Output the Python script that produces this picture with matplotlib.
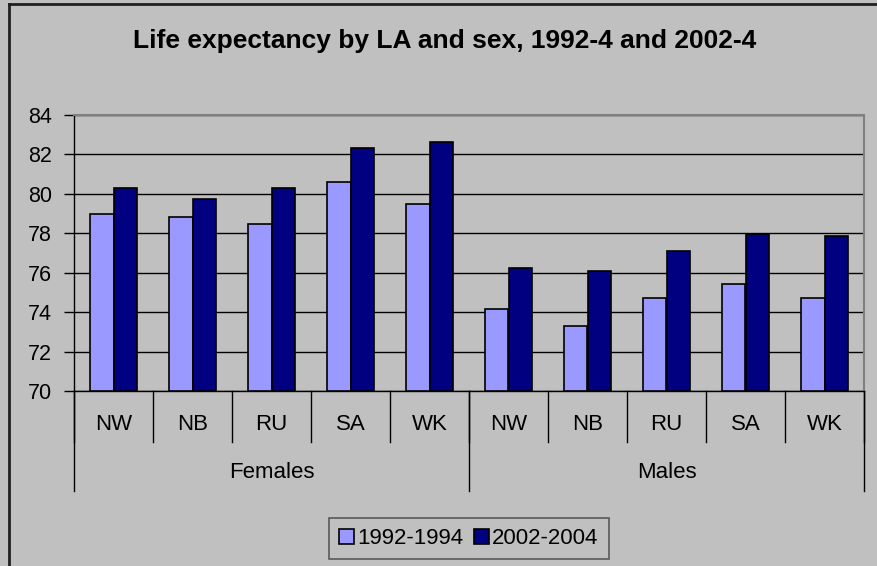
import matplotlib
matplotlib.use("Agg")
import matplotlib.pyplot as plt
from matplotlib.lines import Line2D
import numpy as np

plt.rcParams['font.family'] = ['Liberation Sans', 'DejaVu Sans']

areas = ["NW", "NB", "RU", "SA", "WK", "NW", "NB", "RU", "SA", "WK"]
groups = ["Females", "Males"]
group_size = 5
s1992 = [79.0, 78.85, 78.45, 80.6, 79.47, 74.15, 73.3, 74.7, 75.45, 74.7]
s2002 = [80.3, 79.75, 80.3, 82.35, 82.63, 76.25, 76.1, 77.1, 77.95, 77.85]
series_names = ["1992-1994", "2002-2004"]
title = "Life expectancy by LA and sex, 1992-4 and 2002-4"

bg = "#C0C0C0"
c1 = "#9999FF"
c2 = "#000080"

fig = plt.figure(figsize=(8.77, 5.66), dpi=100, facecolor=bg)
ax = fig.add_axes([74/877, 1-391/566, 790/877, 276/566])
ax.set_facecolor(bg)

x = np.arange(len(areas))
w = 0.3
b1 = ax.bar(x - w/2, np.array(s1992) - 70, w, bottom=70, color=c1, edgecolor="black", linewidth=1.2, zorder=3, label=series_names[0])
b2 = ax.bar(x + w/2, np.array(s2002) - 70, w, bottom=70, color=c2, edgecolor="black", linewidth=1.2, zorder=3, label=series_names[1])

ax.set_ylim(70, 84)
ax.set_xlim(-0.5, len(areas) - 0.5)
ax.set_yticks(np.arange(70, 85, 2))
ax.yaxis.grid(True, color="black", linewidth=1)
ax.set_axisbelow(True)
ax.tick_params(axis='y', length=7, width=1, pad=9, labelsize=15.5, colors="black")
ax.set_xticks([])

for s in ["top", "right"]:
    ax.spines[s].set_color("#808080")
    ax.spines[s].set_linewidth(1.5)
for s in ["left", "bottom"]:
    ax.spines[s].set_color("black")
    ax.spines[s].set_linewidth(1)

trans = ax.get_xaxis_transform()
# category boundaries
for i in range(len(areas) + 1):
    ax.plot([i - 0.5, i - 0.5], [0, -0.185], transform=trans, color="black", lw=1, clip_on=False)
# group boundaries
for g in range(len(groups) + 1):
    xb = g * group_size - 0.5
    ax.plot([xb, xb], [0, -0.362], transform=trans, color="black", lw=1, clip_on=False)
# category labels
for i, lab in enumerate(areas):
    ax.text(i, -0.123, lab, transform=trans, ha="center", va="center", fontsize=16)
for g, lab in enumerate(groups):
    ax.text(g * group_size + (group_size - 1) / 2, -0.297, lab, transform=trans, ha="center", va="center", fontsize=16)

fig.text(445/877, 1-41/566, title, ha="center", va="center", fontsize=19, fontweight="bold")

leg = fig.legend(handles=[b1, b2], labels=series_names, loc="center", bbox_to_anchor=(469/877, 1-538.5/566),
                 ncol=2, fontsize=16, frameon=True, fancybox=False, handlelength=0.65, handleheight=0.65,
                 handletextpad=0.15, columnspacing=0.5, borderpad=0.45, borderaxespad=0)
leg.get_frame().set_facecolor(bg)
leg.get_frame().set_edgecolor("#404040")
leg.get_frame().set_linewidth(1.2)

# outer chart border (left and top visible)
fig.add_artist(Line2D([8.5/877, 8.5/877], [0, 1-4/566], transform=fig.transFigure, color="#202020", lw=2))
fig.add_artist(Line2D([8.5/877, 1], [1-4/566, 1-4/566], transform=fig.transFigure, color="#202020", lw=2))

fig.savefig("out.png", dpi=100, facecolor=bg)
